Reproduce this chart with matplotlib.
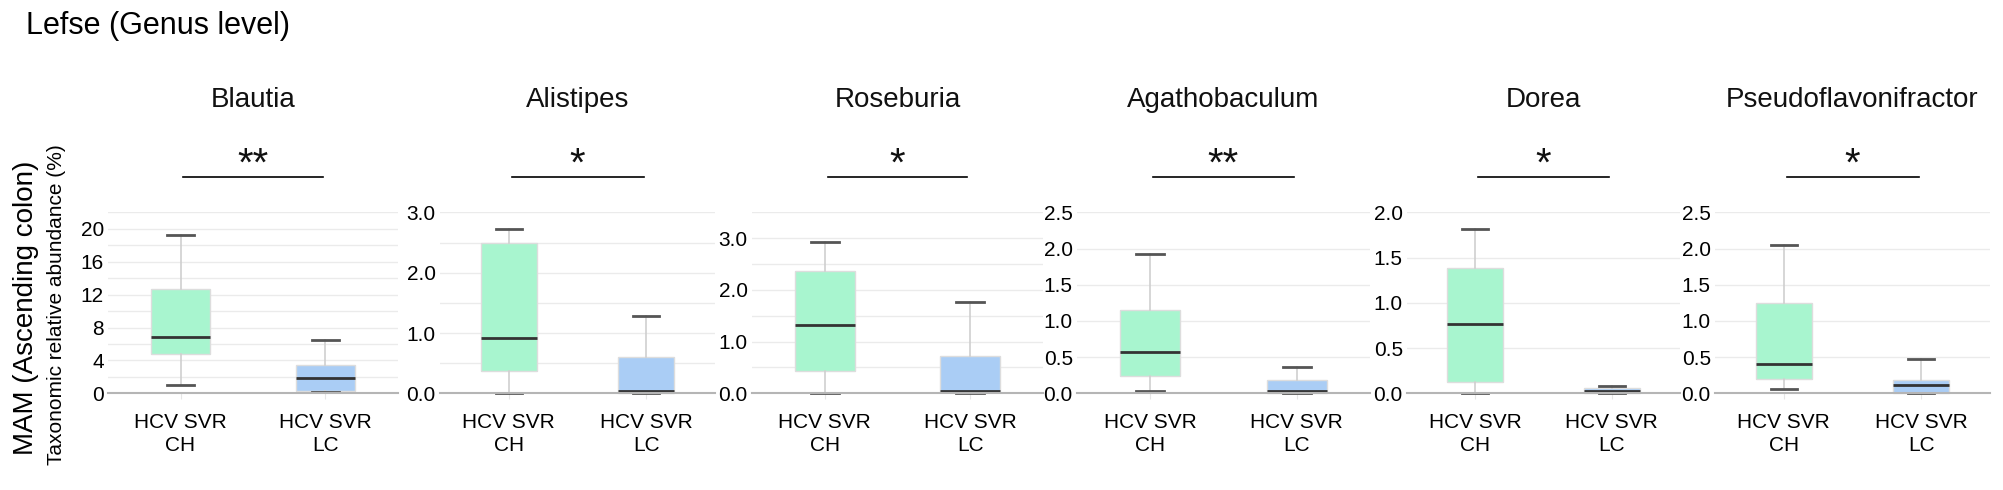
import numpy as np
import matplotlib
matplotlib.use('Agg')
import matplotlib.pyplot as plt
import matplotlib.transforms as mtransforms

plt.rcParams['font.family'] = ['Liberation Sans', 'DejaVu Sans']

# values (box stats per genus)
genera = ['Blautia', 'Alistipes', 'Roseburia', 'Agathobaculum', 'Dorea', 'Pseudoflavonifractor']
stars = ['**', '*', '*', '**', '*', '*']
groups = ['HCV SVR\nCH', 'HCV SVR\nLC']

ch_whislo = [1.0, 0.01, 0.0, 0.03, 0.0, 0.055]
ch_q1 = [4.75, 0.37, 0.43, 0.24, 0.13, 0.20]
ch_med = [6.9, 0.91, 1.33, 0.57, 0.77, 0.40]
ch_q3 = [12.7, 2.5, 2.37, 1.15, 1.39, 1.245]
ch_whishi = [19.3, 2.72, 2.93, 1.92, 1.82, 2.05]

lc_whislo = [0.1, 0.0, 0.0, 0.0, 0.0, 0.0]
lc_q1 = [0.3, 0.0, 0.02, 0.0, 0.0, 0.01]
lc_med = [1.9, 0.03, 0.05, 0.03, 0.02, 0.11]
lc_q3 = [3.4, 0.6, 0.72, 0.18, 0.055, 0.19]
lc_whishi = [6.5, 1.28, 1.76, 0.37, 0.085, 0.47]

y_tops = [22, 3.0, 3.5, 2.5, 2.0, 2.5]
grid_steps = [2, 0.5, 0.5, 0.5, 0.5, 0.5]
label_steps = [4, 1.0, 1.0, 0.5, 0.5, 0.5]
label_tops = [20, 3.0, 3.0, 2.5, 2.0, 2.5]

W, H = 2003, 490
# axes pixel spans (left, right) and vertical extent
x_spans = [(108, 398), (440, 715), (752, 1043), (1077, 1370), (1407, 1680), (1715, 1990)]
y_top_px, y_bot_px = 212.5, 393.3

fig = plt.figure(figsize=(W / 100, H / 100), dpi=100)

colors = ['#a8f5cf', '#aacdf5']

for i in range(len(genera)):
    l, r = x_spans[i]
    ax = fig.add_axes([l / W, 1 - y_bot_px / H, (r - l) / W, (y_bot_px - y_top_px) / H])
    stats = [
        dict(whislo=ch_whislo[i], q1=ch_q1[i], med=ch_med[i], q3=ch_q3[i], whishi=ch_whishi[i], fliers=[]),
        dict(whislo=lc_whislo[i], q1=lc_q1[i], med=lc_med[i], q3=lc_q3[i], whishi=lc_whishi[i], fliers=[]),
    ]
    bp = ax.bxp(stats, positions=[1, 2], widths=0.41, patch_artist=True, showfliers=False,
                capwidths=0.19,
                boxprops=dict(edgecolor='#dddddd', linewidth=1),
                whiskerprops=dict(color='#cfcfcf', linewidth=1.2),
                capprops=dict(color='#555555', linewidth=2),
                medianprops=dict(color='#333333', linewidth=2))
    for patch, c in zip(bp['boxes'], colors):
        patch.set_facecolor(c)
    for art in bp['caps'] + bp['whiskers'] + bp['medians'] + bp['boxes']:
        art.set_clip_on(False)

    ax.set_xlim(0.5, 2.5)
    ax.set_ylim(0, y_tops[i])
    ax.set_xticks([1, 2])
    ax.set_xticklabels(groups, fontsize=15, linespacing=1.3)
    ticks = np.arange(0, label_tops[i] + 1e-9, label_steps[i])
    ax.set_yticks(ticks)
    if i == 0:
        ax.set_yticklabels(['%d' % t for t in ticks], fontsize=15)
    else:
        ax.set_yticklabels(['%.1f' % t for t in ticks], fontsize=15)
    ax.set_yticks(np.arange(0, y_tops[i] + 1e-9, grid_steps[i]), minor=True)
    ax.grid(True, axis='y', which='both', color='#ebebeb', linewidth=1)
    ax.set_axisbelow(True)
    ax.tick_params(axis='y', which='both', length=0, pad=3)
    ax.tick_params(axis='x', length=4, color='#e6e6e6', pad=10)
    for s in ['top', 'right', 'left']:
        ax.spines[s].set_visible(False)
    ax.spines['bottom'].set_color('#b5b5b5')
    ax.spines['bottom'].set_linewidth(1.5)

    # significance bar
    trans = mtransforms.blended_transform_factory(ax.transData, ax.transAxes)
    ax.plot([1.02, 1.98], [1.198, 1.198], color='black', linewidth=1.2,
            transform=trans, clip_on=False)
    ax.text(1.5, 1.205, stars[i], transform=trans, ha='center', va='baseline',
            fontsize=29, color='#111111')
    ax.text(0.5, 1.622, genera[i], transform=ax.transAxes, ha='center', va='center',
            fontsize=20, color='#111111')

fig.text(26 / W, 1 - 26 / H, 'Lefse (Genus level)', ha='left', va='center', fontsize=22)
fig.text(26 / W, 1 - 308 / H, 'MAM (Ascending colon)', rotation=90, ha='center', va='center', fontsize=20)
fig.text(57 / W, 1 - 305 / H, 'Taxonomic relative abundance (%)', rotation=90, ha='center',
         va='center', fontsize=15)

fig.savefig('out.png', dpi=100)
